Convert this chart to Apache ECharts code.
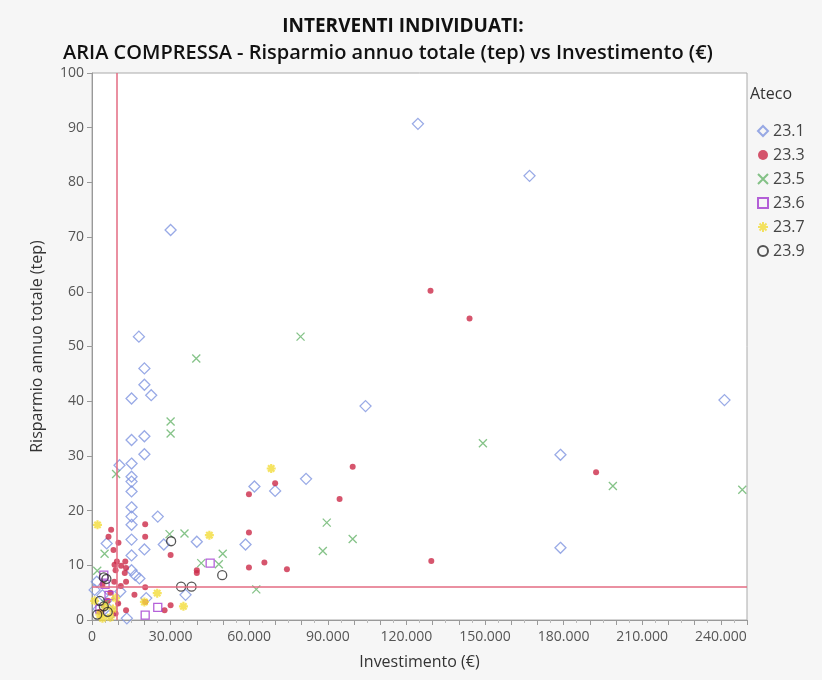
<!DOCTYPE html>
<html>
<head>
<meta charset="utf-8">
<script src="https://cdn.jsdelivr.net/npm/echarts@6/dist/echarts.min.js"></script>
<style>
html,body{margin:0;padding:0;background:#f6f6f6;}
#c{width:822px;height:680px;}
</style>
</head>
<body>
<div id="c"></div>
<script>
// ---- data: [Investimento (€), Risparmio annuo totale (tep)] ----
const seriesNames = ['23.1', '23.3', '23.5', '23.6', '23.7', '23.9'];

const ateco231 = [
  [124400,90.7],[167000,81.2],[30000,71.3],[241400,40.2],[104400,39.1],[17900,51.8],
  [20000,46.0],[20000,43.0],[22600,41.1],[15100,40.5],[15100,32.9],[20000,33.6],
  [20000,30.3],[178800,30.2],[10500,28.3],[15100,28.6],[15100,26.2],[15100,25.3],
  [15100,23.5],[81700,25.8],[69900,23.6],[62000,24.4],[15100,20.6],[15100,18.9],
  [15100,17.4],[25100,18.9],[15100,14.7],[20000,12.9],[15100,11.8],[58600,13.8],
  [27400,13.8],[40000,14.3],[178800,13.2],[15100,9.1],[18100,7.6],[35700,4.6],
  [20700,4.0],[5600,14.0],[1800,7.0],[10800,5.2],[13300,0.3],[4000,4.5],
  [2500,2.0],[7000,1.0],[1000,5.5],[8500,3.0],[16500,8.2]
];
const ateco233 = [
  [129200,60.2],[144100,55.1],[99500,28.0],[192400,27.0],[69900,25.0],[59900,23.0],
  [94500,22.1],[20300,17.5],[20300,15.2],[59900,16.0],[59900,9.6],[65800,10.5],
  [74400,9.3],[129500,10.8],[30000,11.9],[40000,9.1],[40000,8.6],[7300,16.5],
  [6300,15.2],[10100,14.1],[8200,12.8],[9500,10.7],[12700,10.7],[11100,9.9],
  [8600,10.1],[13000,7.0],[20300,6.0],[16200,4.6],[13000,1.8],[27700,1.8],
  [30000,2.7],[20300,3.3],[9000,9.1],[13000,9.5],[8500,7.0],[4000,6.5],
  [6000,3.5],[10000,3.0],[3000,1.5],[11000,6.2],[7000,5.0],[12500,8.6],[9000,1.2]
];
const ateco235 = [
  [79600,51.8],[39800,47.8],[30000,36.3],[30000,34.1],[149200,32.3],[198800,24.5],
  [248200,23.8],[89600,17.8],[99500,14.8],[88100,12.6],[29600,15.7],[35300,15.8],
  [49900,12.1],[41700,10.4],[48400,10.2],[62700,5.6],[9200,26.7],[4800,12.1],
  [2000,9.0],[5000,3.0]
];
const ateco236 = [
  [45100,10.4],[25100,2.3],[20300,0.9],[4500,8.2],[5000,6.5],[3000,2.0],[6500,4.5]
];
const ateco237 = [
  [68400,27.7],[2100,17.4],[44800,15.5],[24900,4.9],[34900,2.5],[20000,3.3],
  [3000,1.0],[5000,2.5],[7000,0.5],[1000,3.5],[8000,2.0],[4000,0.3],[9000,4.0]
];
const ateco239 = [
  [30200,14.4],[49700,8.2],[34000,6.1],[38000,6.1],[4500,7.8],[5500,7.5],
  [3000,3.5],[4500,2.5],[6000,1.5],[2000,1.0]
];
const refX = 9450;   // vertical reference line (€)
const refY = 6.1;    // horizontal reference line (tep)

const chart = echarts.init(document.getElementById('c'));
const FONT = '"Open Sans", "Noto Sans", sans-serif';
const hollow = c => ({ color: 'rgba(255,255,255,0)', borderColor: c, borderWidth: 1.3 });

function fmt(v){
  return String(v).replace(/\B(?=(\d{3})+(?!\d))/g, '.');
}

chart.setOption({
  backgroundColor: '#f6f6f6',
  animation: false,
  textStyle: { fontFamily: FONT },
  title: [
    { text: 'INTERVENTI INDIVIDUATI:', left: 398, top: 12, textAlign: 'center',
      textStyle: { fontSize: 19, fontWeight: 'bold', color: '#111', fontFamily: FONT } },
    { text: 'ARIA COMPRESSA - Risparmio annuo totale (tep) vs Investimento (€)', left: 383, top: 38, textAlign: 'center',
      textStyle: { fontSize: 20, fontWeight: 600, color: '#111', fontFamily: FONT } }
  ],
  graphic: [
    { type: 'text', left: 750, top: 86, style: { text: 'Ateco', fontSize: 16, fill: '#333', fontFamily: FONT } }
  ],
  legend: {
    orient: 'vertical', left: 752, top: 118, itemGap: 8, itemWidth: 10, itemHeight: 10,
    textStyle: { fontSize: 16, color: '#444', fontFamily: FONT },
    data: seriesNames
  },
  grid: { left: 92, right: 75, top: 73, bottom: 60, show: true, backgroundColor: '#fff', borderColor: '#aaa', borderWidth: 1 },
  xAxis: {
    type: 'value', min: 0, max: 250000, interval: 10000,
    name: 'Investimento (€)', nameLocation: 'middle', nameGap: 34,
    nameTextStyle: { fontSize: 16, color: '#333' },
    axisLine: { show: true, lineStyle: { color: '#999' } },
    axisTick: { show: true, length: 5, lineStyle: { color: '#999' } },
    minorTick: { show: true, splitNumber: 2, length: 3, lineStyle: { color: '#bbb' } },
    splitLine: { show: false },
    axisLabel: { fontSize: 14, color: '#555', margin: 10,
      formatter: v => (v % 30000 === 0 && v <= 240000) ? fmt(v) : '' }
  },
  yAxis: {
    type: 'value', min: 0, max: 100, interval: 10,
    name: 'Risparmio annuo totale (tep)', nameLocation: 'middle', nameGap: 47,
    nameTextStyle: { fontSize: 16, color: '#333' },
    axisLine: { show: true, lineStyle: { color: '#999' } },
    axisTick: { show: true, length: 5, lineStyle: { color: '#999' } },
    splitLine: { show: false },
    axisLabel: { fontSize: 14, color: '#555', margin: 8 }
  },
  series: [
    { name: '23.1', type: 'scatter', data: ateco231, symbol: 'diamond', symbolSize: 11,
      itemStyle: hollow('#7f95e0'),
      markLine: { silent: true, symbol: 'none', label: { show: false },
        lineStyle: { color: '#e36b82', width: 1.5, type: 'solid' },
        data: [{ xAxis: refX }, { yAxis: refY }] } },
    { name: '23.3', type: 'scatter', data: ateco233, symbol: 'circle', symbolSize: 6,
      itemStyle: { color: '#cc2a48' } },
    { name: '23.5', type: 'scatter', data: ateco235, symbol: 'path://M0,0L10,10M10,0L0,10', symbolSize: 8,
      itemStyle: hollow('#66b46a') },
    { name: '23.6', type: 'scatter', data: ateco236, symbol: 'rect', symbolSize: 8,
      itemStyle: hollow('#a23ad0') },
    { name: '23.7', type: 'scatter', data: ateco237, symbol: 'path://M5,0L5,10M0,5L10,5M1.5,1.5L8.5,8.5M8.5,1.5L1.5,8.5', symbolSize: 9,
      itemStyle: { color: 'rgba(255,255,255,0)', borderColor: '#f2dc3a', borderWidth: 2.2 } },
    { name: '23.9', type: 'scatter', data: ateco239, symbol: 'circle', symbolSize: 9,
      itemStyle: hollow('#2a2a2a') }
  ]
});
</script>
</body>
</html>
